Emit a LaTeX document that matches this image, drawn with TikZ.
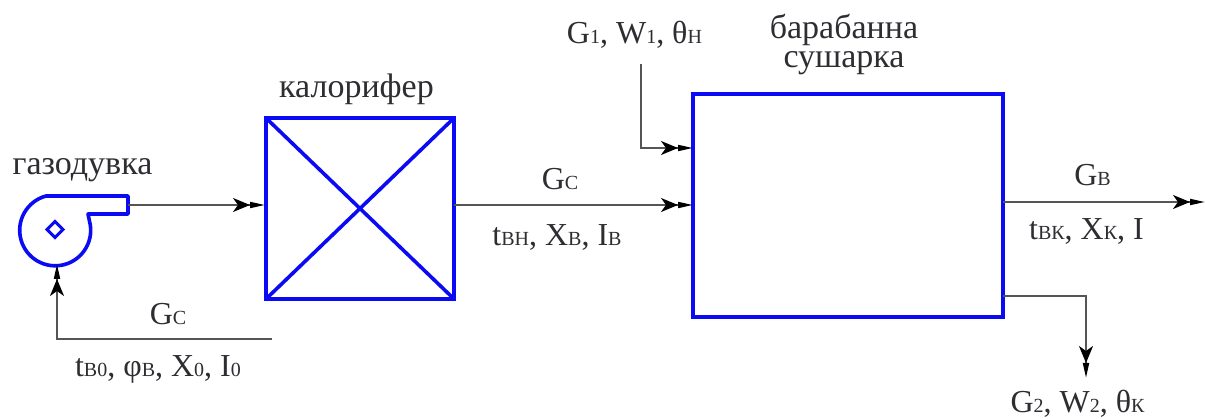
\documentclass[tikz,border=0pt]{standalone}
\usepackage{fontspec}
\setmainfont{Liberation Serif}
\usetikzlibrary{arrows.meta,shapes.geometric}
\definecolor{bluebox}{RGB}{10,10,245}
\definecolor{flowgray}{RGB}{85,85,85}
\definecolor{labelink}{RGB}{45,45,50}
\newcommand{\lowidx}[1]{{\fontsize{20}{22}\selectfont #1}}
\tikzset{
  unitbox/.style={draw=bluebox,line width=4pt,inner sep=0pt,outer sep=0pt,rectangle},
  unitline/.style={draw=bluebox,line width=3.6pt,line join=round},
  flow/.style={draw=flowgray,line width=1.8pt,line join=miter},
  flowtip/.style={-{Stealth[length=17pt,width=14pt,inset=5pt,black,sep=0pt]Stealth[length=15pt,width=6pt,inset=0pt,black]}},
  lbl/.style={anchor=base,inner sep=0pt,outer sep=0pt,text=labelink,font=\fontsize{32}{34}\selectfont,align=center},
  namelbl/.style={lbl,font=\fontsize{34}{29}\selectfont}
}
\begin{document}
\begin{tikzpicture}[x=1pt,y=-1pt]
\useasboundingbox[fill=white] (0,0) rectangle (1205,419);
% units
\node[unitbox,minimum width=188pt,minimum height=181pt] (heater) at (360,208.5) {};
\node[unitbox,minimum width=310pt,minimum height=223pt] (dryer) at (848,205.5) {};
\draw[unitline] (heater.north west) -- (heater.south east);
\draw[unitline] (heater.north east) -- (heater.south west);
% blower
\draw[unitline] (128,196) -- (46,196) arc[start angle=-105,end angle=-375,radius=35.5] -- (88,214) -- (128,214) -- cycle;
\node[draw=bluebox,line width=3pt,diamond,aspect=1,inner sep=0pt,minimum size=16pt,outer sep=0pt] (eye) at (55,229.5) {};
\coordinate (fanout) at (128,205);
\coordinate (fanin) at (57,264);
% free ends and bends
\coordinate (airstart) at (272,339);
\coordinate (airbend) at (57,339);
\coordinate (wetstart) at (641,64);
\coordinate (wetbend) at (641,148);
\coordinate (wetin) at (693,148);
\coordinate (heatout) at (454,205);
\coordinate (dryin) at (693,205);
\coordinate (heatin) at (265,205);
\coordinate (gasout) at (1003,202);
\coordinate (gasend) at (1205,202);
\coordinate (solout) at (1003,296);
\coordinate (solbend) at (1086,296);
\coordinate (solend) at (1086,378);
% connectors
\draw[flow,flowtip] (fanout) -- (heatin);
\draw[flow,flowtip] (airstart) -- (airbend) -- (fanin);
\draw[flow,flowtip] (heatout) -- (dryin);
\draw[flow,flowtip] (wetstart) -- (wetbend) -- (wetin);
\draw[flow,flowtip] (gasout) -- (gasend);
\draw[flow,flowtip] (solout) -- (solbend) -- (solend);
% labels
\node[namelbl] (lblfan) at (82.5,175) {газодувка};
\node[namelbl] (lblheat) at (356.5,98) {калорифер};
\node[namelbl,anchor=center] (lbldry) at (844,45) {барабанна\\сушарка};
\node[lbl] (lblg1) at (634.5,44) {G\lowidx{1}, W\lowidx{1}, θ\lowidx{Н}};
\node[lbl] (lblgc1) at (168,325) {G\lowidx{С}};
\node[lbl] (lblt0) at (158,377) {t\lowidx{В0}, φ\lowidx{В}, X\lowidx{0}, I\lowidx{0}};
\node[lbl] (lblgc2) at (560,190) {G\lowidx{С}};
\node[lbl] (lbltn) at (557,246) {t\lowidx{ВН}, X\lowidx{В}, I\lowidx{В}};
\node[lbl] (lblgv) at (1092.5,186) {G\lowidx{В}};
\node[lbl] (lbltk) at (1086.5,240) {t\lowidx{ВК}, X\lowidx{К}, I};
\node[lbl] (lblg2) at (1077.5,413) {G\lowidx{2}, W\lowidx{2}, θ\lowidx{К}};
\end{tikzpicture}
\end{document}
